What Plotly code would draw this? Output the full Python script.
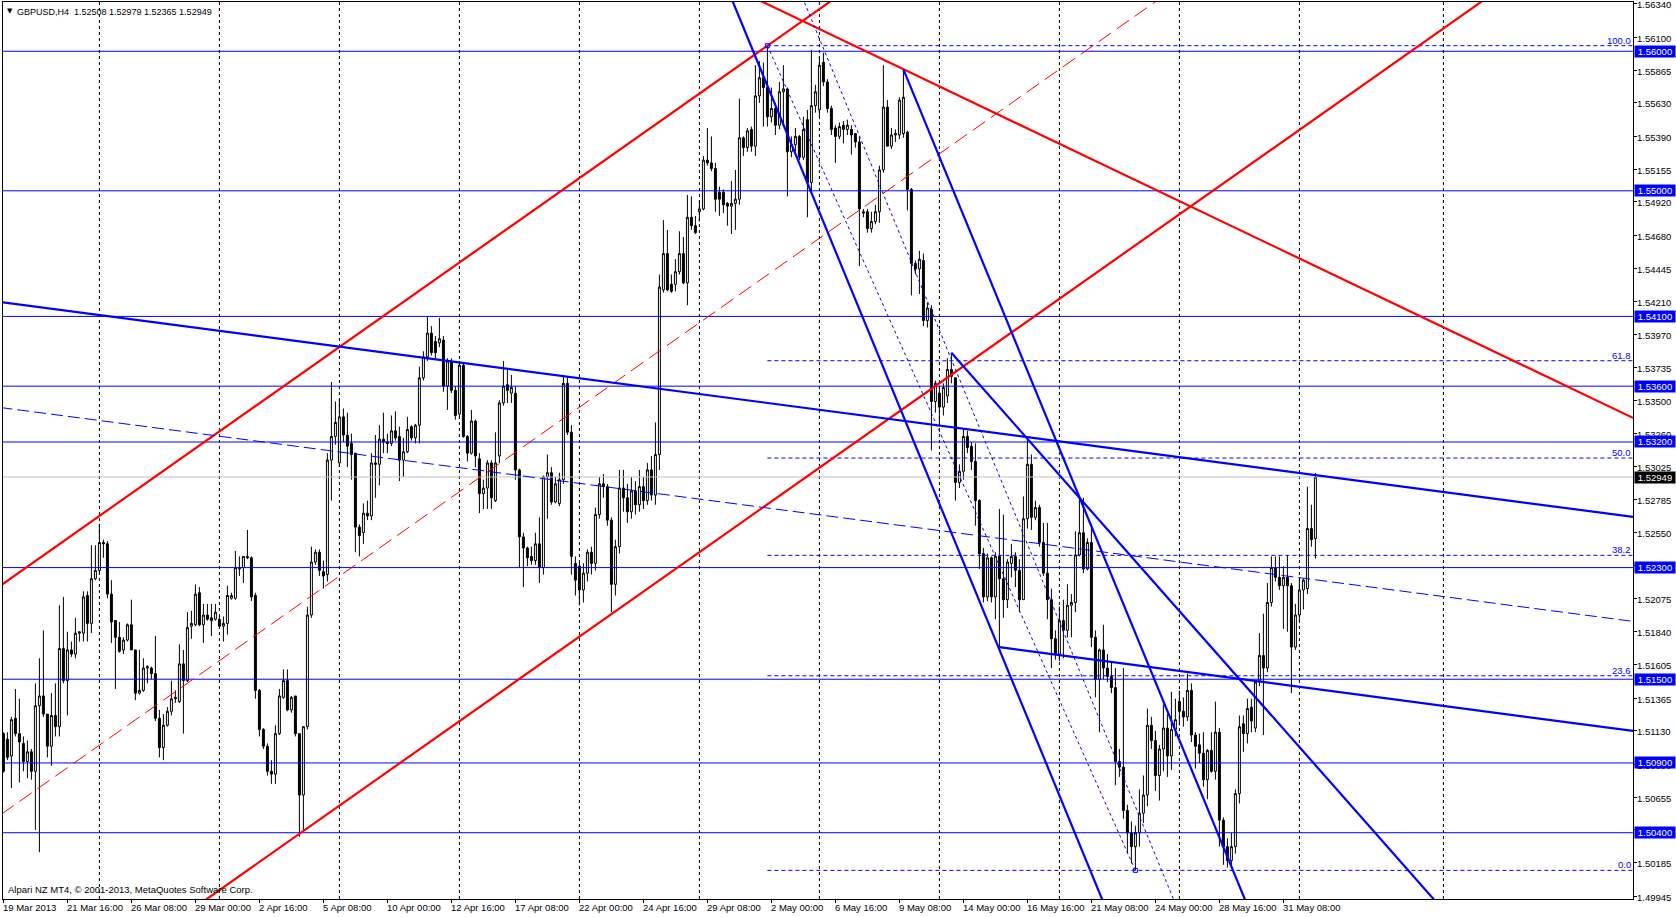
import plotly.graph_objects as go

# ---------------- OHLC data (GBPUSD H4, bar 0 = 19 Mar 2013 00:00) ----------------
opens = [
    1.5111, 1.5107, 1.5095, 1.5122, 1.5111, 1.5104, 1.5091, 1.5098, 1.5084, 1.5131,
    1.5138, 1.5125, 1.5102, 1.5124, 1.5116, 1.5172, 1.5149, 1.5171, 1.5168, 1.5183,
    1.5183, 1.5210, 1.5190, 1.5222, 1.5228, 1.5248, 1.5247, 1.5211, 1.5192, 1.5180,
    1.5171, 1.5178, 1.5189, 1.5171, 1.5140, 1.5142, 1.5158, 1.5158, 1.5154, 1.5122,
    1.5101, 1.5117, 1.5127, 1.5136, 1.5134, 1.5161, 1.5149, 1.5188, 1.5189, 1.5212,
    1.5189, 1.5196, 1.5194, 1.5193, 1.5193, 1.5188, 1.5190, 1.5208, 1.5208, 1.5229,
    1.5230, 1.5238, 1.5237, 1.5210, 1.5142, 1.5114, 1.5102, 1.5084, 1.5082, 1.5111,
    1.5137, 1.5149, 1.5128, 1.5138, 1.5111, 1.5067, 1.5116, 1.5196, 1.5234, 1.5241,
    1.5227, 1.5225, 1.5307, 1.5324, 1.5305, 1.5338, 1.5325, 1.5319, 1.5312, 1.5259,
    1.5255, 1.5269, 1.5267, 1.5305, 1.5304, 1.5322, 1.5320, 1.5319, 1.5328, 1.5324,
    1.5307, 1.5313, 1.5331, 1.5323, 1.5332, 1.5366, 1.5381, 1.5398, 1.5392, 1.5391,
    1.5393, 1.5360, 1.5378, 1.5357, 1.5340, 1.5375, 1.5324, 1.5312, 1.5335, 1.5308,
    1.5283, 1.5287, 1.5305, 1.5278, 1.5310, 1.5348, 1.5361, 1.5355, 1.5355, 1.5300,
    1.5252, 1.5244, 1.5238, 1.5235, 1.5247, 1.5230, 1.5295, 1.5298, 1.5277, 1.5276,
    1.5293, 1.5362, 1.5327, 1.5233, 1.5231, 1.5214, 1.5226, 1.5241, 1.5233, 1.5268,
    1.5290, 1.5288, 1.5264, 1.5218, 1.5245, 1.5287, 1.5280, 1.5270, 1.5285, 1.5275,
    1.5288, 1.5278, 1.5300, 1.5282, 1.5311, 1.5429, 1.5455, 1.5433, 1.5433, 1.5442,
    1.5455, 1.5434, 1.5481, 1.5475, 1.5485, 1.5487, 1.5522, 1.5520, 1.5516, 1.5499,
    1.5499, 1.5491, 1.5489, 1.5491, 1.5494, 1.5538, 1.5531, 1.5544, 1.5532, 1.5568,
    1.5581, 1.5574, 1.5553, 1.5559, 1.5547, 1.5571, 1.5573, 1.5528, 1.5533, 1.5539,
    1.5524, 1.5551, 1.5506, 1.5561, 1.5558, 1.5592, 1.5578, 1.5559, 1.5545, 1.5539,
    1.5547, 1.5544, 1.5544, 1.5541, 1.5535, 1.5484, 1.5485, 1.5473, 1.5478, 1.5485,
    1.5515, 1.5560, 1.5532, 1.5540, 1.5540, 1.5541, 1.5542, 1.5501, 1.5448, 1.5444,
    1.5450, 1.5407, 1.5415, 1.5349, 1.5355, 1.5345, 1.5353, 1.5372, 1.5366, 1.5291,
    1.5299, 1.5324, 1.5317, 1.5306, 1.5278, 1.5240, 1.5209, 1.5237, 1.5209, 1.5238,
    1.5222, 1.5207, 1.5233, 1.5238, 1.5228, 1.5207, 1.5265, 1.5304, 1.5266, 1.5273,
    1.5248, 1.5226, 1.5207, 1.5179, 1.5168, 1.5192, 1.5185, 1.5203, 1.5205, 1.5239,
    1.5255, 1.5229, 1.5248, 1.5180, 1.5150, 1.5171, 1.5158, 1.5152, 1.5144, 1.5091,
    1.5087, 1.5056, 1.5040, 1.5030, 1.5040, 1.5054, 1.5067, 1.5117, 1.5106, 1.5081,
    1.5100, 1.5115, 1.5095, 1.5114, 1.5134, 1.5127, 1.5123, 1.5142, 1.5110, 1.5103,
    1.5097, 1.5078, 1.5099, 1.5084, 1.5112, 1.5049, 1.5030, 1.5020, 1.5030, 1.5068,
    1.5118, 1.5111, 1.5130, 1.5115, 1.5148, 1.5167, 1.5158, 1.5205, 1.5230, 1.5223,
    1.5217, 1.5223, 1.5217, 1.5173, 1.5196, 1.5214, 1.5215, 1.5258, 1.52508,
]
highs = [
    1.5112, 1.5112, 1.5123, 1.5143, 1.5136, 1.5109, 1.5106, 1.5100, 1.5147, 1.5165,
    1.5185, 1.5125, 1.5140, 1.5147, 1.5203, 1.5209, 1.5184, 1.5177, 1.5194, 1.5184,
    1.5213, 1.5213, 1.5246, 1.5246, 1.5261, 1.5250, 1.5249, 1.5221, 1.5192, 1.5191,
    1.5180, 1.5190, 1.5207, 1.5171, 1.5171, 1.5165, 1.5160, 1.5159, 1.5181, 1.5128,
    1.5125, 1.5130, 1.5149, 1.5142, 1.5175, 1.5171, 1.5198, 1.5199, 1.5218, 1.5216,
    1.5204, 1.5204, 1.5204, 1.5204, 1.5195, 1.5195, 1.5217, 1.5212, 1.5242, 1.5238,
    1.5238, 1.5257, 1.5238, 1.5212, 1.5143, 1.5115, 1.5104, 1.5092, 1.5117, 1.5143,
    1.5157, 1.5157, 1.5138, 1.5138, 1.5111, 1.5116, 1.5202, 1.5245, 1.5243, 1.5243,
    1.5235, 1.5312, 1.5363, 1.5349, 1.5351, 1.5344, 1.5341, 1.5326, 1.5312, 1.5261,
    1.5276, 1.5278, 1.5312, 1.5325, 1.5332, 1.5341, 1.5326, 1.5339, 1.5342, 1.5331,
    1.5323, 1.5338, 1.5332, 1.5333, 1.5374, 1.5385, 1.5410, 1.5403, 1.5396, 1.5409,
    1.5396, 1.5380, 1.5380, 1.5360, 1.5378, 1.5376, 1.5325, 1.5343, 1.5336, 1.5312,
    1.5293, 1.5307, 1.5307, 1.5327, 1.5350, 1.5378, 1.5372, 1.5368, 1.5360, 1.5301,
    1.5255, 1.5245, 1.5245, 1.5255, 1.5266, 1.5296, 1.5311, 1.5302, 1.5295, 1.5298,
    1.5368, 1.5367, 1.5332, 1.5238, 1.5234, 1.5233, 1.5243, 1.5245, 1.5273, 1.5295,
    1.5297, 1.5290, 1.5266, 1.5250, 1.5300, 1.5300, 1.5290, 1.5295, 1.5292, 1.5300,
    1.5295, 1.5305, 1.5310, 1.5334, 1.5440, 1.5479, 1.5472, 1.5440, 1.5451, 1.5471,
    1.5467, 1.5497, 1.5496, 1.5482, 1.5493, 1.5525, 1.5545, 1.5539, 1.5520, 1.5503,
    1.5501, 1.5492, 1.5507, 1.5515, 1.5566, 1.5539, 1.5545, 1.5546, 1.5590, 1.5593,
    1.5592, 1.5604, 1.5574, 1.5563, 1.5578, 1.5590, 1.5574, 1.5539, 1.5545, 1.5540,
    1.5553, 1.5558, 1.5601, 1.5576, 1.5596, 1.5599, 1.5580, 1.5561, 1.5547, 1.5549,
    1.5550, 1.5551, 1.5547, 1.5541, 1.5539, 1.5487, 1.5487, 1.5485, 1.5490, 1.5518,
    1.5590, 1.5565, 1.5545, 1.5544, 1.5567, 1.5587, 1.5543, 1.5502, 1.5450, 1.5457,
    1.5455, 1.5420, 1.5418, 1.5364, 1.5360, 1.5362, 1.5380, 1.5384, 1.5366, 1.5304,
    1.5330, 1.5328, 1.5320, 1.5319, 1.5279, 1.5244, 1.5240, 1.5238, 1.5241, 1.5272,
    1.5268, 1.5236, 1.5247, 1.5241, 1.5236, 1.5281, 1.5323, 1.5311, 1.5278, 1.5275,
    1.5262, 1.5262, 1.5215, 1.5185, 1.5202, 1.5207, 1.5218, 1.5211, 1.5256, 1.5280,
    1.5280, 1.5251, 1.5261, 1.5185, 1.5172, 1.5189, 1.5168, 1.5163, 1.5158, 1.5100,
    1.5158, 1.5060, 1.5048, 1.5045, 1.5071, 1.5081, 1.5129, 1.5123, 1.5113, 1.5103,
    1.5132, 1.5125, 1.5141, 1.5136, 1.5142, 1.5137, 1.5154, 1.5147, 1.5112, 1.5111,
    1.5112, 1.5100, 1.5112, 1.5134, 1.5115, 1.5051, 1.5036, 1.5040, 1.5071, 1.5124,
    1.5124, 1.5136, 1.5136, 1.5149, 1.5183, 1.5197, 1.5219, 1.5238, 1.5238, 1.5238,
    1.5231, 1.5239, 1.5219, 1.5204, 1.5222, 1.5222, 1.5288, 1.5275, 1.52979,
]
lows = [
    1.5083, 1.5092, 1.5072, 1.5109, 1.5076, 1.5084, 1.5079, 1.5078, 1.5042, 1.5026,
    1.5123, 1.5094, 1.5088, 1.5109, 1.5109, 1.5147, 1.5124, 1.5166, 1.5165, 1.5177,
    1.5177, 1.5177, 1.5183, 1.5221, 1.5226, 1.5237, 1.5208, 1.5176, 1.5143, 1.5169,
    1.5168, 1.5177, 1.5171, 1.5135, 1.5139, 1.5141, 1.5147, 1.5150, 1.5120, 1.5094,
    1.5092, 1.5116, 1.5124, 1.5133, 1.5133, 1.5111, 1.5148, 1.5179, 1.5188, 1.5188,
    1.5176, 1.5192, 1.5181, 1.5192, 1.5187, 1.5177, 1.5182, 1.5207, 1.5207, 1.5224,
    1.5219, 1.5236, 1.5206, 1.5136, 1.5109, 1.5100, 1.5081, 1.5075, 1.5075, 1.5110,
    1.5136, 1.5127, 1.5126, 1.5109, 1.5037, 1.5042, 1.5114, 1.5194, 1.5232, 1.5224,
    1.5215, 1.5220, 1.5278, 1.5318, 1.5302, 1.5320, 1.5302, 1.5293, 1.5241, 1.5238,
    1.5247, 1.5264, 1.5264, 1.5280, 1.5289, 1.5312, 1.5312, 1.5317, 1.5321, 1.5292,
    1.5295, 1.5312, 1.5321, 1.5319, 1.5319, 1.5364, 1.5378, 1.5382, 1.5380, 1.5388,
    1.5356, 1.5343, 1.5355, 1.5336, 1.5338, 1.5323, 1.5306, 1.5311, 1.5302, 1.5269,
    1.5272, 1.5272, 1.5272, 1.5277, 1.5305, 1.5346, 1.5348, 1.5348, 1.5293, 1.5230,
    1.5216, 1.5231, 1.5232, 1.5232, 1.5219, 1.5225, 1.5265, 1.5275, 1.5276, 1.5274,
    1.5290, 1.5325, 1.5225, 1.5210, 1.5203, 1.5205, 1.5220, 1.5225, 1.5228, 1.5265,
    1.5280, 1.5260, 1.5198, 1.5210, 1.5240, 1.5270, 1.5262, 1.5265, 1.5268, 1.5270,
    1.5272, 1.5275, 1.5278, 1.5275, 1.5300, 1.5427, 1.5428, 1.5427, 1.5428, 1.5440,
    1.5433, 1.5418, 1.5472, 1.5469, 1.5478, 1.5486, 1.5518, 1.5514, 1.5485, 1.5482,
    1.5484, 1.5475, 1.5469, 1.5472, 1.5490, 1.5525, 1.5528, 1.5528, 1.5525, 1.5563,
    1.5546, 1.5546, 1.5549, 1.5540, 1.5544, 1.5546, 1.5496, 1.5524, 1.5528, 1.5522,
    1.5522, 1.5481, 1.5500, 1.5556, 1.5553, 1.5575, 1.5556, 1.5540, 1.5520, 1.5537,
    1.5534, 1.5540, 1.5526, 1.5531, 1.5446, 1.5481, 1.5470, 1.5470, 1.5476, 1.5477,
    1.5513, 1.5532, 1.5530, 1.5535, 1.5537, 1.5538, 1.5486, 1.5425, 1.5440, 1.5426,
    1.5403, 1.5402, 1.5314, 1.5341, 1.5334, 1.5339, 1.5348, 1.5362, 1.5278, 1.5287,
    1.5293, 1.5312, 1.5300, 1.5260, 1.5229, 1.5205, 1.5206, 1.5205, 1.5193, 1.5173,
    1.5194, 1.5201, 1.5223, 1.5216, 1.5198, 1.5207, 1.5258, 1.5257, 1.5264, 1.5245,
    1.5224, 1.5193, 1.5158, 1.5164, 1.5163, 1.5165, 1.5180, 1.5180, 1.5198, 1.5238,
    1.5226, 1.5228, 1.5173, 1.5137, 1.5112, 1.5150, 1.5148, 1.5140, 1.5074, 1.5080,
    1.5050, 1.5025, 1.5018, 1.5013, 1.5030, 1.5047, 1.5059, 1.5100, 1.5070, 1.5063,
    1.5084, 1.5080, 1.5085, 1.5109, 1.5117, 1.5116, 1.5120, 1.5105, 1.5086, 1.5090,
    1.5073, 1.5064, 1.5083, 1.5078, 1.5030, 1.5017, 1.5015, 1.5016, 1.5025, 1.5061,
    1.5098, 1.5104, 1.5112, 1.5112, 1.5145, 1.5110, 1.5155, 1.5202, 1.5220, 1.5214,
    1.5186, 1.5184, 1.5140, 1.5171, 1.5192, 1.5200, 1.5211, 1.5245, 1.52365,
]
closes = [
    1.5084, 1.5094, 1.5121, 1.5111, 1.5105, 1.5091, 1.5098, 1.5084, 1.5131, 1.5138,
    1.5125, 1.5102, 1.5124, 1.5116, 1.5172, 1.5149, 1.5171, 1.5168, 1.5183, 1.5184,
    1.5209, 1.5190, 1.5222, 1.5228, 1.5248, 1.5247, 1.5211, 1.5191, 1.5180, 1.5170,
    1.5178, 1.5189, 1.5171, 1.5140, 1.5142, 1.5158, 1.5159, 1.5154, 1.5122, 1.5101,
    1.5117, 1.5127, 1.5136, 1.5137, 1.5161, 1.5149, 1.5187, 1.5190, 1.5211, 1.5189,
    1.5196, 1.5193, 1.5192, 1.5198, 1.5188, 1.5190, 1.5210, 1.5210, 1.5230, 1.5230,
    1.5238, 1.5237, 1.5209, 1.5142, 1.5114, 1.5102, 1.5084, 1.5082, 1.5111, 1.5138,
    1.5149, 1.5128, 1.5137, 1.5111, 1.5067, 1.5116, 1.5196, 1.5234, 1.5241, 1.5228,
    1.5224, 1.5307, 1.5324, 1.5334, 1.5338, 1.5325, 1.5317, 1.5311, 1.5259, 1.5253,
    1.5269, 1.5267, 1.5305, 1.5304, 1.5322, 1.5320, 1.5319, 1.5328, 1.5323, 1.5307,
    1.5313, 1.5329, 1.5323, 1.5332, 1.5366, 1.5381, 1.5398, 1.5384, 1.5384, 1.5394,
    1.5360, 1.5378, 1.5357, 1.5339, 1.5375, 1.5324, 1.5312, 1.5335, 1.5310, 1.5283,
    1.5287, 1.5305, 1.5280, 1.5305, 1.5348, 1.5360, 1.5357, 1.5359, 1.5300, 1.5252,
    1.5244, 1.5237, 1.5235, 1.5247, 1.5230, 1.5295, 1.5298, 1.5277, 1.5290, 1.5293,
    1.5362, 1.5327, 1.5238, 1.5221, 1.5214, 1.5226, 1.5241, 1.5233, 1.5268, 1.5290,
    1.5288, 1.5264, 1.5218, 1.5245, 1.5287, 1.5280, 1.5270, 1.5285, 1.5275, 1.5288,
    1.5278, 1.5300, 1.5282, 1.5311, 1.5431, 1.5455, 1.5429, 1.5428, 1.5442, 1.5455,
    1.5434, 1.5481, 1.5475, 1.5470, 1.5487, 1.5522, 1.5520, 1.5516, 1.5494, 1.5494,
    1.5490, 1.5489, 1.5491, 1.5494, 1.5538, 1.5531, 1.5543, 1.5532, 1.5568, 1.5581,
    1.5574, 1.5553, 1.5559, 1.5547, 1.5571, 1.5573, 1.5528, 1.5533, 1.5539, 1.5524,
    1.5544, 1.5506, 1.5561, 1.5571, 1.5590, 1.5578, 1.5559, 1.5544, 1.5539, 1.5546,
    1.5544, 1.5547, 1.5540, 1.5535, 1.5487, 1.5485, 1.5473, 1.5478, 1.5485, 1.5515,
    1.5560, 1.5532, 1.5540, 1.5541, 1.5565, 1.5567, 1.5501, 1.5448, 1.5444, 1.5451,
    1.5407, 1.5416, 1.5349, 1.5362, 1.5345, 1.5359, 1.5372, 1.5367, 1.5291, 1.5299,
    1.5324, 1.5316, 1.5306, 1.5278, 1.5240, 1.5209, 1.5237, 1.5209, 1.5238, 1.5222,
    1.5207, 1.5234, 1.5238, 1.5228, 1.5207, 1.5265, 1.5304, 1.5266, 1.5273, 1.5248,
    1.5226, 1.5207, 1.5179, 1.5168, 1.5192, 1.5185, 1.5203, 1.5205, 1.5239, 1.5255,
    1.5229, 1.5248, 1.5180, 1.5150, 1.5171, 1.5158, 1.5152, 1.5144, 1.5091, 1.5087,
    1.5056, 1.5040, 1.5030, 1.5040, 1.5054, 1.5067, 1.5117, 1.5106, 1.5081, 1.5100,
    1.5115, 1.5095, 1.5114, 1.5121, 1.5127, 1.5123, 1.5142, 1.5110, 1.5102, 1.5097,
    1.5078, 1.5099, 1.5084, 1.5112, 1.5049, 1.5030, 1.5020, 1.5030, 1.5068, 1.5116,
    1.5111, 1.5129, 1.5120, 1.5148, 1.5167, 1.5158, 1.5205, 1.5230, 1.5223, 1.5217,
    1.5223, 1.5217, 1.5173, 1.5196, 1.5214, 1.5221, 1.5258, 1.5250, 1.52949,
]

# time-axis labels (one every 16 H4 bars)
time_labels = [
    "19 Mar 2013", "21 Mar 16:00", "26 Mar 08:00", "29 Mar 00:00", "2 Apr 16:00",
    "5 Apr 08:00", "10 Apr 00:00", "12 Apr 16:00", "17 Apr 08:00", "22 Apr 00:00",
    "24 Apr 16:00", "29 Apr 08:00", "2 May 00:00", "6 May 16:00", "9 May 08:00",
    "14 May 00:00", "16 May 16:00", "21 May 08:00", "24 May 00:00", "28 May 16:00",
    "31 May 08:00",
]
label_step = 16
grid_bars = [24, 54, 84, 114, 144, 174, 204, 234, 264, 294, 324, 360]

# price scale labels
price_ticks = [1.56340, 1.56100, 1.55865, 1.55630, 1.55390, 1.55155, 1.54920, 1.54680,
               1.54445, 1.54210, 1.53970, 1.53735, 1.53500, 1.53260, 1.53025, 1.52785,
               1.52550, 1.52315, 1.52075, 1.51840, 1.51605, 1.51365, 1.51130, 1.50890,
               1.50655, 1.50420, 1.50185, 1.49945]

# horizontal support/resistance levels
h_levels = [1.5600, 1.5500, 1.5410, 1.5360, 1.5320, 1.5230, 1.5150, 1.5090, 1.5040]
current_price = 1.52949

# Fibonacci retracement anchors (bar, price)
fib_high = (191, 1.5604)
fib_low = (283, 1.5013)
fib_levels = [0.0, 23.6, 38.2, 50.0, 61.8, 100.0]

# trend lines: list of (bar, price) anchor pairs
blue_thick_lines = [
    [(-0.75, 1.54203), (407.5, 1.52663)],
    [(249, 1.5173), (407.5, 1.51129)],
    [(180, 1.56519), (290, 1.48856)],
    [(225, 1.5587), (320, 1.49252)],
    [(237, 1.5384), (370, 1.49520)],
]
blue_dash_lines = [
    [(-0.75, 1.53447), (407.5, 1.51914)],
]
blue_dot_lines = [
    [(198, 1.56508), (300, 1.49403)],
    [fib_high, fib_low],
]
red_thick_lines = [
    [(-5, 1.52085), (210, 1.56423)],
    [(40, 1.49706), (380, 1.56567)],
    [(180, 1.56488), (410, 1.53337)],
]
red_dash_lines = [
    [(-5, 1.50442), (300, 1.56597)],
]

BLUE = "#0000FF"
RED = "#FF0000"
FONT = "Liberation Sans"
FS = 9.5

bars = list(range(len(closes)))

fig = go.Figure()

# horizontal levels
for lv in h_levels:
    fig.add_trace(go.Scatter(x=[-2, 412], y=[lv, lv], mode="lines",
                             line=dict(color=BLUE, width=1), hoverinfo="skip"))
fig.add_trace(go.Scatter(x=[-2, 412], y=[current_price, current_price], mode="lines",
                         line=dict(color="#C0C0C0", width=1), hoverinfo="skip"))
# fibonacci levels
fib_prices = [fib_low[1] + lv / 100.0 * (fib_high[1] - fib_low[1]) for lv in fib_levels]
for fp in fib_prices:
    fig.add_trace(go.Scatter(x=[fib_high[0], 412], y=[fp, fp], mode="lines",
                             line=dict(color=BLUE, width=1, dash="4px,3px"), hoverinfo="skip"))

# candles
fig.add_trace(go.Candlestick(
    x=bars, open=opens, high=highs, low=lows, close=closes,
    increasing=dict(line=dict(color="black", width=1), fillcolor="white"),
    decreasing=dict(line=dict(color="black", width=1), fillcolor="black"),
    whiskerwidth=0, hoverinfo="skip", showlegend=False))

def add_lines(lines, color, width, dash=None):
    for (a, b) in lines:
        fig.add_trace(go.Scatter(x=[a[0], b[0]], y=[a[1], b[1]], mode="lines",
                                 line=dict(color=color, width=width, dash=dash),
                                 hoverinfo="skip"))

add_lines(red_dash_lines, RED, 1, "15px,7px")
add_lines(red_thick_lines, RED, 2.2)
add_lines(blue_dash_lines, BLUE, 1, "12px,5px")
add_lines(blue_dot_lines, BLUE, 1, "3px,3px")
add_lines(blue_thick_lines, BLUE, 2.2)

# fib anchor markers
fig.add_trace(go.Scatter(x=[fib_high[0], fib_low[0]], y=[fib_high[1], fib_low[1]], mode="markers",
                         marker=dict(symbol="square-open", size=4, color=BLUE, line=dict(width=1)),
                         hoverinfo="skip"))

shapes = [dict(type="line", xref="x", yref="paper", x0=g, x1=g, y0=0, y1=1,
               line=dict(color="black", width=1, dash="3px,3px"), layer="below")
          for g in grid_bars]

annotations = []
label_bars = [i * label_step for i in range(len(time_labels))]
for b, t in zip(label_bars, time_labels):
    annotations.append(dict(x=b, y=0, xref="x", yref="paper", text=t, showarrow=False,
                            xanchor="left", yanchor="top", yshift=-1, xshift=-2,
                            font=dict(family=FONT, size=FS, color="black")))
# price scale labels as text next to the ticks
for p in price_ticks:
    annotations.append(dict(x=1, y=p, xref="paper", yref="y", text=f"{p:.5f}", showarrow=False,
                            xanchor="left", yanchor="middle", xshift=2, yshift=-1,
                            font=dict(family=FONT, size=FS, color="black")))
for lv in h_levels:
    annotations.append(dict(x=1, y=lv, xref="paper", yref="y", text=f"{lv:.5f}", showarrow=False,
                            xanchor="left", yanchor="middle", xshift=1, bgcolor=BLUE,
                            width=38, height=9, borderpad=1, align="center",
                            font=dict(family=FONT, size=FS, color="white")))
annotations.append(dict(x=1, y=current_price, xref="paper", yref="y", text=f"{current_price:.5f}",
                        showarrow=False, xanchor="left", yanchor="middle", xshift=1, bgcolor="black",
                        width=38, height=9, borderpad=1, align="center",
                        font=dict(family=FONT, size=FS, color="white")))
for lv, fp in zip(fib_levels, fib_prices):
    annotations.append(dict(x=1, y=fp, xref="paper", yref="y", text=f"{lv:.1f}", showarrow=False,
                            xanchor="right", yanchor="bottom", xshift=0, yshift=-2,
                            font=dict(family=FONT, size=FS, color=BLUE)))
annotations.append(dict(x=0, y=1, xref="paper", yref="paper", text="▼", showarrow=False,
                        xanchor="left", yanchor="top", xshift=2, yshift=-3,
                        font=dict(family="DejaVu Sans", size=7, color="black")))
annotations.append(dict(x=0, y=1, xref="paper", yref="paper",
                        text="GBPUSD,H4  1.52508 1.52979 1.52365 1.52949", showarrow=False,
                        xanchor="left", yanchor="top", xshift=12, yshift=-3,
                        font=dict(family=FONT, size=9, color="black")))
annotations.append(dict(x=0, y=0, xref="paper", yref="paper",
                        text="Alpari NZ MT4, © 2001-2013, MetaQuotes Software Corp.", showarrow=False,
                        xanchor="left", yanchor="bottom", xshift=3, yshift=2,
                        font=dict(family=FONT, size=FS, color="black")))

fig.update_layout(
    width=1676, height=917,
    margin=dict(l=3, r=43, t=2, b=18),
    paper_bgcolor="white", plot_bgcolor="white",
    showlegend=False, hovermode=False,
    shapes=shapes, annotations=annotations,
    xaxis=dict(range=[-0.1, 407.4], showgrid=False, zeroline=False, showline=True, mirror=True,
               linecolor="black", linewidth=1, ticks="outside", ticklen=3, tickcolor="black",
               tickvals=label_bars, showticklabels=False, rangeslider=dict(visible=False),
               fixedrange=True),
    yaxis=dict(range=[1.49925, 1.56353], side="right", showgrid=False, zeroline=False,
               showline=True, mirror=True, linecolor="black", linewidth=1, ticks="outside",
               ticklen=3, tickcolor="black", tickvals=price_ticks, showticklabels=False,
               fixedrange=True),
)

fig.write_html("out.html", config={"displayModeBar": False, "staticPlot": True},
               post_script="document.body.style.margin='0';document.body.style.overflow='hidden';")
